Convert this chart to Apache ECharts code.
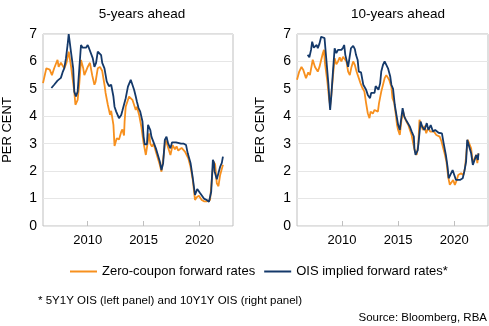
<!DOCTYPE html>
<html>
<head>
<meta charset="utf-8">
<script src="https://cdn.jsdelivr.net/npm/echarts@6/dist/echarts.min.js"></script>
<style>
  html, body { margin: 0; padding: 0; background: #fff; }
  #chart { width: 489px; height: 326px; }
</style>
</head>
<body>
<div id="chart"></div>
<script>
// Panel titles, legend names and tick labels
const panelTitles = ['5-years ahead', '10-years ahead'];
const seriesNames = ['Zero-coupon forward rates', 'OIS implied forward rates*'];
const yearTicks = [2010, 2015, 2020];
const yTickValues = [0, 1, 2, 3, 4, 5, 6, 7];

// 5-years ahead: zero-coupon forward rate, [year, per cent]
const zc5y = [[2006.0,5.21],[2006.3,5.75],[2006.6,5.7],[2006.8,5.5],[2007.0,5.75],[2007.3,6.06],[2007.4,5.8],[2007.6,5.95],[2007.9,5.75],[2008.1,5.95],[2008.3,6.36],[2008.5,5.85],[2008.8,4.9],[2008.9,4.42],[2009.1,4.6],[2009.25,5.2],[2009.4,6.05],[2009.6,5.75],[2009.7,5.5],[2010.0,5.8],[2010.2,5.95],[2010.4,5.5],[2010.6,5.15],[2010.7,5.25],[2010.9,5.75],[2011.1,5.8],[2011.3,5.65],[2011.5,5.15],[2011.6,4.85],[2011.8,4.42],[2012.0,4.05],[2012.1,4.2],[2012.3,3.69],[2012.4,2.92],[2012.6,3.2],[2012.8,3.15],[2013.0,3.44],[2013.1,3.52],[2013.25,3.3],[2013.3,3.8],[2013.4,4.35],[2013.7,4.72],[2014.0,4.6],[2014.3,4.23],[2014.4,4.35],[2014.6,4.05],[2014.8,3.62],[2015.0,3.02],[2015.2,2.59],[2015.3,2.6],[2015.5,3.38],[2015.6,3.0],[2015.75,2.9],[2015.9,3.0],[2016.1,2.71],[2016.25,2.75],[2016.45,2.23],[2016.6,1.98],[2016.8,2.59],[2016.95,3.14],[2017.05,3.05],[2017.2,2.85],[2017.4,2.59],[2017.6,2.95],[2017.8,2.8],[2017.95,2.9],[2018.1,2.75],[2018.4,2.85],[2018.7,2.71],[2018.85,2.65],[2019.0,2.47],[2019.2,2.16],[2019.4,1.68],[2019.6,0.95],[2019.75,1.05],[2019.95,1.1],[2020.2,0.95],[2020.4,0.9],[2020.65,0.9],[2020.8,0.83],[2020.95,0.95],[2021.1,1.68],[2021.25,2.35],[2021.4,2.25],[2021.55,1.56],[2021.7,1.45],[2021.85,1.86],[2022.0,1.9],[2022.1,2.23]];

// 5-years ahead: 5Y1Y OIS implied forward rate
const ois5y = [[2006.75,5.03],[2007.0,5.15],[2007.3,5.3],[2007.6,5.4],[2007.75,5.6],[2007.9,5.75],[2008.05,6.1],[2008.2,6.6],[2008.3,7.0],[2008.5,6.36],[2008.7,5.75],[2008.8,4.9],[2008.95,4.72],[2009.1,4.9],[2009.25,5.75],[2009.4,6.6],[2009.55,6.5],[2009.7,6.57],[2009.85,6.5],[2010.0,6.6],[2010.1,6.5],[2010.25,6.55],[2010.45,6.12],[2010.6,5.8],[2010.75,5.95],[2010.9,6.36],[2011.05,6.3],[2011.2,6.23],[2011.3,5.95],[2011.5,5.75],[2011.7,5.27],[2011.9,5.1],[2012.1,5.15],[2012.3,4.72],[2012.4,4.35],[2012.55,4.17],[2012.65,4.11],[2012.8,3.93],[2013.0,4.05],[2013.1,4.2],[2013.25,4.17],[2013.4,4.66],[2013.6,5.08],[2013.85,5.33],[2014.0,5.15],[2014.15,4.97],[2014.3,4.72],[2014.4,4.54],[2014.55,4.3],[2014.7,4.17],[2014.9,3.81],[2015.0,3.26],[2015.1,2.98],[2015.3,2.98],[2015.4,3.69],[2015.6,3.5],[2015.7,3.26],[2015.85,3.26],[2016.1,2.83],[2016.25,2.83],[2016.45,2.35],[2016.6,2.04],[2016.75,2.29],[2016.9,3.14],[2017.05,3.26],[2017.2,3.0],[2017.4,2.83],[2017.55,3.05],[2017.7,3.0],[2017.9,3.05],[2018.05,3.1],[2018.35,3.0],[2018.6,3.0],[2018.8,2.95],[2018.95,2.65],[2019.2,2.3],[2019.4,1.75],[2019.6,1.13],[2019.8,1.35],[2019.9,1.37],[2020.05,1.2],[2020.4,1.0],[2020.65,0.95],[2020.85,0.88],[2021.05,1.25],[2021.2,2.41],[2021.3,2.3],[2021.35,2.0],[2021.55,1.7],[2021.7,1.65],[2021.85,2.16],[2022.0,2.3],[2022.1,2.53]];

// 10-years ahead: zero-coupon forward rate
const zc10y = [[2006.0,5.33],[2006.2,5.63],[2006.4,5.8],[2006.55,5.7],[2006.8,5.39],[2007.0,5.6],[2007.15,5.5],[2007.4,6.06],[2007.6,5.8],[2007.75,5.85],[2007.85,5.63],[2008.0,5.8],[2008.15,6.05],[2008.3,6.3],[2008.4,6.42],[2008.5,5.9],[2008.7,5.27],[2008.85,4.66],[2008.95,4.4],[2009.05,4.75],[2009.2,5.45],[2009.35,6.12],[2009.5,5.9],[2009.65,6.0],[2009.8,6.15],[2009.95,6.0],[2010.1,6.17],[2010.25,6.23],[2010.4,6.0],[2010.55,5.63],[2010.7,5.5],[2010.85,5.8],[2011.0,6.0],[2011.15,5.87],[2011.3,5.63],[2011.5,5.39],[2011.65,5.21],[2011.8,5.05],[2012.0,4.9],[2012.15,4.48],[2012.3,4.11],[2012.45,3.93],[2012.55,4.17],[2012.75,4.1],[2012.9,4.23],[2013.05,4.3],[2013.2,4.17],[2013.3,4.48],[2013.5,4.9],[2013.8,5.39],[2013.95,5.5],[2014.2,5.33],[2014.4,5.08],[2014.5,4.66],[2014.65,4.5],[2014.8,4.05],[2014.9,3.69],[2015.0,3.5],[2015.15,3.32],[2015.3,3.87],[2015.45,4.17],[2015.6,3.93],[2015.75,3.8],[2015.9,3.69],[2016.05,3.5],[2016.2,3.32],[2016.35,3.0],[2016.5,2.71],[2016.65,2.59],[2016.8,3.0],[2016.9,3.87],[2017.05,3.8],[2017.2,3.5],[2017.35,3.65],[2017.5,3.38],[2017.7,3.6],[2017.85,3.44],[2018.0,3.38],[2018.2,3.44],[2018.4,3.32],[2018.7,3.26],[2018.85,3.1],[2019.1,2.71],[2019.3,2.35],[2019.45,1.8],[2019.6,1.5],[2019.75,1.56],[2019.9,1.68],[2020.05,1.5],[2020.2,1.65],[2020.35,1.86],[2020.6,1.92],[2020.8,1.86],[2020.95,2.1],[2021.1,2.77],[2021.2,3.14],[2021.35,3.1],[2021.5,2.83],[2021.65,2.29],[2021.8,2.45],[2021.95,2.59],[2022.05,2.29],[2022.15,2.65]];

// 10-years ahead: 10Y1Y OIS implied forward rate
const ois10y = [[2006.95,6.24],[2007.1,6.15],[2007.25,6.42],[2007.35,6.72],[2007.5,6.5],[2007.6,6.48],[2007.75,6.6],[2007.85,6.48],[2008.0,6.65],[2008.15,6.9],[2008.3,6.97],[2008.45,6.85],[2008.6,6.12],[2008.8,5.15],[2008.9,4.48],[2008.95,4.23],[2009.05,4.72],[2009.2,5.63],[2009.35,6.48],[2009.5,6.3],[2009.65,6.42],[2009.8,6.35],[2009.95,6.42],[2010.1,6.5],[2010.2,6.6],[2010.3,6.24],[2010.55,5.8],[2010.65,5.8],[2010.8,6.48],[2011.0,6.57],[2011.15,6.45],[2011.25,6.24],[2011.4,6.05],[2011.5,5.63],[2011.7,5.6],[2011.9,5.15],[2012.0,5.2],[2012.15,4.97],[2012.3,4.78],[2012.5,4.66],[2012.6,4.85],[2012.75,4.78],[2012.9,4.85],[2013.0,5.1],[2013.15,5.15],[2013.25,4.97],[2013.4,5.2],[2013.5,5.63],[2013.65,5.87],[2013.8,6.0],[2013.95,5.93],[2014.1,5.75],[2014.3,5.45],[2014.4,5.15],[2014.55,5.0],[2014.7,4.42],[2014.85,4.05],[2015.0,3.69],[2015.05,3.62],[2015.15,3.5],[2015.3,3.99],[2015.4,4.3],[2015.55,3.99],[2015.7,3.87],[2015.85,3.8],[2016.05,3.62],[2016.2,3.45],[2016.4,3.26],[2016.45,2.83],[2016.55,2.59],[2016.75,2.77],[2016.9,3.38],[2017.0,3.81],[2017.15,3.62],[2017.35,3.5],[2017.55,3.75],[2017.7,3.5],[2017.9,3.68],[2018.1,3.45],[2018.3,3.5],[2018.6,3.4],[2018.9,3.38],[2019.05,3.02],[2019.25,2.59],[2019.4,2.16],[2019.5,1.74],[2019.65,1.8],[2019.85,2.04],[2020.0,1.98],[2020.15,1.68],[2020.3,1.62],[2020.5,1.68],[2020.75,1.74],[2020.9,2.0],[2021.05,2.35],[2021.15,3.14],[2021.3,3.1],[2021.5,2.65],[2021.65,2.23],[2021.8,2.4],[2021.95,2.59],[2022.1,2.41],[2022.15,2.65]];

const ORANGE = '#F7901E';
const NAVY = '#14396A';
const FONT = '"Liberation Sans", Arial, sans-serif';

const chart = echarts.init(document.getElementById('chart'), null, { renderer: 'canvas' });

const grids = [
  { left: 41, top: 34, width: 192, height: 192 },
  { left: 297, top: 34, width: 191, height: 192 }
];

function makeX(i) {
  return {
    type: 'value', gridIndex: i, min: 2006, max: 2023,
    axisLine: { show: false },
    axisTick: { show: true, inside: true, length: 5, customValues: yearTicks, lineStyle: { color: '#bfbfbf' } },
    axisLabel: { customValues: yearTicks, color: '#000', fontSize: 13, fontFamily: FONT, margin: 8,
      formatter: v => String(Math.round(v)) },
    splitLine: { show: false }
  };
}
function makeY(i) {
  return {
    type: 'value', gridIndex: i, min: 0, max: 7, interval: 1,
    name: 'PER CENT', nameLocation: 'middle', nameGap: i === 0 ? 29 : 30, nameRotate: 90,
    nameTextStyle: { color: '#000', fontSize: 13, fontFamily: FONT },
    axisLine: { show: false }, axisTick: { show: false },
    axisLabel: { color: '#000', fontSize: 14, fontFamily: FONT, margin: 6,
      formatter: v => (yTickValues.includes(v) ? String(v) : '') },
    splitLine: { show: true, lineStyle: { color: '#e6e6e6', width: 1 } }
  };
}
function line(name, data, color, i) {
  return {
    type: 'line', name, data, xAxisIndex: i, yAxisIndex: i,
    showSymbol: false, symbol: 'none', smooth: false,
    lineStyle: { color, width: 1.8 }, itemStyle: { color },
    emphasis: { disabled: true }, silent: true, animation: false
  };
}

chart.setOption({
  animation: false,
  textStyle: { fontFamily: FONT },
  title: [
    { text: panelTitles[0], left: 137, top: 2, textAlign: 'center',
      textStyle: { fontSize: 13.5, fontWeight: 'normal', color: '#000', fontFamily: FONT } },
    { text: panelTitles[1], left: 393, top: 2, textAlign: 'center',
      textStyle: { fontSize: 13.5, fontWeight: 'normal', color: '#000', fontFamily: FONT } }
  ],
  grid: grids.map(g => Object.assign({ show: true, borderColor: '#bfbfbf', borderWidth: 1, backgroundColor: 'transparent' }, g)),
  xAxis: [makeX(0), makeX(1)],
  yAxis: [makeY(0), makeY(1)],
  legend: {
    left: 65, top: 260, itemGap: 9, itemWidth: 27, itemHeight: 2, icon: 'rect',
    data: seriesNames, selectedMode: false,
    textStyle: { fontSize: 13, color: '#000', fontFamily: FONT }
  },
  graphic: [
    { type: 'text', left: 38, top: 295,
      style: { text: '* 5Y1Y OIS (left panel) and 10Y1Y OIS (right panel)', fontSize: 11.5, fill: '#000', fontFamily: FONT } },
    { type: 'text', right: 2, top: 312,
      style: { text: 'Source: Bloomberg, RBA', fontSize: 11.5, fill: '#000', fontFamily: FONT } }
  ],
  series: [
    line(seriesNames[0], zc5y, ORANGE, 0),
    line(seriesNames[1], ois5y, NAVY, 0),
    line(seriesNames[0], zc10y, ORANGE, 1),
    line(seriesNames[1], ois10y, NAVY, 1)
  ]
});
</script>
</body>
</html>
